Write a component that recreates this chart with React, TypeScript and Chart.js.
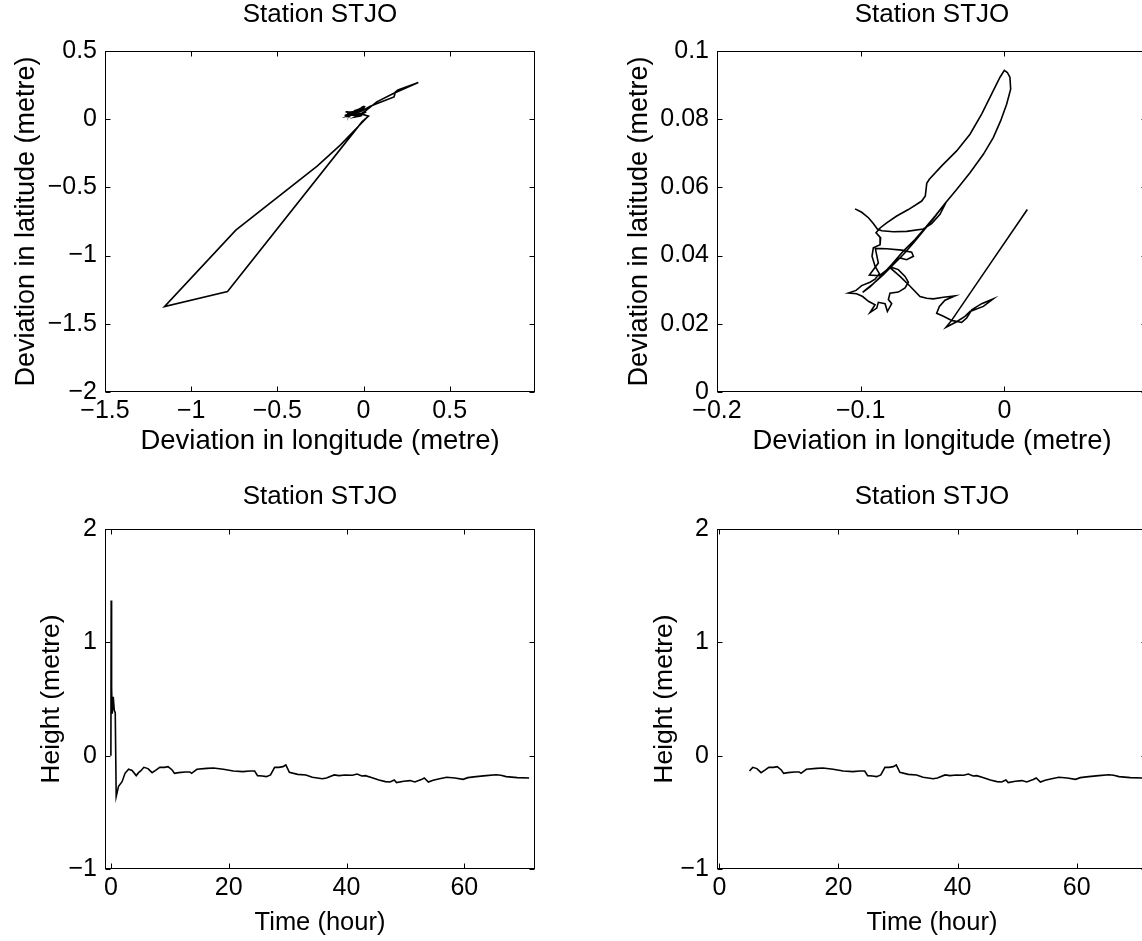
import React, { useEffect, useRef } from "react";
import { Chart, registerables } from "chart.js";

Chart.register(...registerables);

const FONT = "'Liberation Sans', Arial, Helvetica, sans-serif";

// ---------- Data ----------
// Early (first ~5 h) horizontal track, longitude / latitude deviation (m)
const earlyLon = [0.02, -0.135, -0.269, -0.741, -1.155, -0.789, -0.009, 0.029, -0.03, -0.09, -0.02, 0.01, 0.077, 0.173, 0.318, 0.2, 0.185, 0.177, 0.09, 0.039, -0.019, -0.06];
const earlyLat = [0.012, -0.19, -0.344, -0.813, -1.374, -1.264, -0.02, 0.022, 0.045, 0.03, 0.035, 0.06, 0.127, 0.188, 0.269, 0.215, 0.2, 0.163, 0.12, 0.095, 0.054, 0.05];

// Track after ~5 h (shown alone in the upper right panel)
const lateLon = [
  -0.1039, -0.0993, -0.0946, -0.0912, -0.0884, -0.0854, -0.0772, -0.068, -0.0564, -0.0506,
  -0.0448, -0.0413, -0.0436, -0.0494, -0.0564, -0.0633, -0.0703, -0.0772, -0.0842, -0.0912,
  -0.097, -0.0986, -0.0935, -0.0865, -0.0784, -0.0703, -0.0622, -0.0552, -0.0482, -0.0413,
  -0.0332, -0.0239, -0.0146, -0.0077, -0.0026, 0.0016, 0.0044, 0.0039, 0.0021, 0.0,
  -0.003, -0.0088, -0.0158, -0.0239, -0.0332, -0.0436, -0.0522, -0.054, -0.055, -0.0575,
  -0.0668, -0.0749, -0.0819, -0.0865, -0.0893, -0.0861, -0.0865, -0.0912, -0.0921, -0.09,
  -0.087, -0.09, -0.0935, -0.0993, -0.1032, -0.1086, -0.1028, -0.0986, -0.0946, -0.09,
  -0.0935, -0.0888, -0.0877, -0.083, -0.0814, -0.0784, -0.0807, -0.0796, -0.0738, -0.0691,
  -0.0668, -0.0691, -0.0738, -0.0796, -0.0772, -0.0726, -0.068, -0.0633, -0.0645, -0.0714,
  -0.0819, -0.0898, -0.0877, -0.0939, -0.087, -0.0796, -0.0726, -0.0656, -0.0587, -0.054,
  -0.0494, -0.0424, -0.0343, -0.0413, -0.0452, -0.0471, -0.0424, -0.0367, -0.0297, -0.0262,
  -0.0227, -0.0158, -0.0077, -0.0146, -0.0239, -0.0274, -0.0332, -0.0406, -0.0367, -0.01,
  0.016,
];
const lateLat = [
  0.0537, 0.0527, 0.0511, 0.0494, 0.0478, 0.0473, 0.047, 0.0471, 0.0478, 0.0494,
  0.0521, 0.055, 0.054, 0.0508, 0.0472, 0.0437, 0.0403, 0.0374, 0.0344, 0.0318,
  0.0298, 0.0292, 0.0308, 0.0337, 0.0374, 0.0413, 0.0447, 0.0481, 0.0516, 0.0553,
  0.0594, 0.0643, 0.0697, 0.0746, 0.0795, 0.0844, 0.0888, 0.0923, 0.0937, 0.0943,
  0.0923, 0.0874, 0.0815, 0.0756, 0.0707, 0.0663, 0.0624, 0.0612, 0.0575, 0.056,
  0.0535, 0.0516, 0.0496, 0.0481, 0.0467, 0.0452, 0.0432, 0.0423, 0.0398, 0.0369,
  0.0347, 0.0331, 0.0322, 0.0312, 0.0298, 0.029, 0.0288, 0.028, 0.0266, 0.0256,
  0.0233, 0.0246, 0.0263, 0.0259, 0.0236, 0.0259, 0.0271, 0.029, 0.0293, 0.0305,
  0.0322, 0.0339, 0.0359, 0.0367, 0.0378, 0.0393, 0.0388, 0.0398, 0.041, 0.0416,
  0.042, 0.0421, 0.0378, 0.0343, 0.0341, 0.0365, 0.0339, 0.031, 0.028, 0.0275,
  0.0273, 0.0278, 0.0282, 0.0269, 0.0251, 0.0231, 0.0222, 0.021, 0.0204, 0.0217,
  0.0241, 0.0259, 0.0273, 0.0251, 0.0236, 0.0222, 0.0206, 0.019, 0.021, 0.0375,
  0.0535,
];

// Height time series
const timeHours = [
  0, 0.05, 0.12, 0.23, 0.4, 0.57, 0.74, 0.9, 1.3, 1.9, 2.4, 3.0, 3.6, 4.3, 4.7,
  5.05, 5.6, 6.3, 7.0, 7.7, 8.3, 9.1, 9.7, 10.4, 10.8, 11.5, 12.6, 13.4, 13.7, 14.6,
  16.3, 17.4, 19.1, 20.8, 22.4, 23.6, 24.4, 24.9, 25.7, 26.4, 27.1, 27.8, 28.5, 29.2,
  29.7, 30.3, 31.7, 33.1, 34.2, 35.9, 36.6, 37.9, 38.7, 39.8, 41.0, 41.8, 42.6, 43.2,
  44.1, 45.5, 46.6, 47.4, 48.1, 48.5, 49.7, 50.8, 51.6, 52.7, 53.2, 53.9, 54.7, 55.8,
  57.0, 58.4, 59.8, 60.6, 62.0, 63.7, 65.4, 66.2, 67.1, 69.0, 71.0,
];
const heightMetre = [
  0, 1.37, 0.6, 0.37, 0.52, 0.4, 0.38, -0.36, -0.27, -0.23, -0.156, -0.12, -0.13, -0.176, -0.15,
  -0.135, -0.103, -0.114, -0.15, -0.126, -0.103, -0.103, -0.097, -0.126, -0.156, -0.15, -0.144, -0.144, -0.156, -0.12,
  -0.112, -0.109, -0.12, -0.135, -0.141, -0.135, -0.135, -0.176, -0.179, -0.185, -0.17, -0.103, -0.103, -0.097,
  -0.082, -0.147, -0.165, -0.17, -0.191, -0.203, -0.197, -0.17, -0.176, -0.17, -0.173, -0.162, -0.179, -0.176,
  -0.191, -0.214, -0.229, -0.232, -0.214, -0.238, -0.226, -0.22, -0.232, -0.211, -0.197, -0.232, -0.217, -0.203,
  -0.191, -0.197, -0.209, -0.194, -0.185, -0.176, -0.168, -0.173, -0.185, -0.194, -0.197,
];
const rightStartHour = 5;

const TITLE = "Station STJO";
const LON_LABEL = "Deviation in longitude (metre)";
const LAT_LABEL = "Deviation in latitude (metre)";
const TIME_LABEL = "Time (hour)";
const HEIGHT_LABEL = "Height (metre)";

const ticksTL_X = [-1.5, -1, -0.5, 0, 0.5];
const ticksTL_Y = [-2, -1.5, -1, -0.5, 0, 0.5];
const ticksTR_X = [-0.2, -0.1, 0];
const ticksTR_Y = [0, 0.02, 0.04, 0.06, 0.08, 0.1];
const ticksH_X = [0, 20, 40, 60];
const ticksH_Y = [-1, 0, 1, 2];

// ---------- Chart helpers ----------
type Pt = { x: number; y: number };
type Panel = {
  left: number; top: number; width: number; height: number;
  area: { l: number; t: number; r: number; b: number };
  titleY: number; xLabelY: number; yLabelX: number;
  xLabelSize: number; yLabelSize: number;
  xMin: number; xMax: number; xTicks: number[];
  yMin: number; yMax: number; yTicks: number[];
  xLabel: string; yLabel: string;
  points: Pt[];
};

const TICK_SIZE = 25;
const TITLE_SIZE = 26;

const fmt = (v: number) => String(v).replace("-", "\u2212");

const boxPlugin = {
  id: "matlabBox",
  afterDraw(chart: any) {
    const { ctx, chartArea: a, scales } = chart;
    const L = Math.round(a.left) + 0.5;
    const R = Math.round(a.right) - 0.5;
    const T = Math.round(a.top) + 0.5;
    const B = Math.round(a.bottom) - 0.5;
    ctx.save();
    ctx.strokeStyle = "#000";
    ctx.lineWidth = 1;
    ctx.strokeRect(L, T, R - L, B - T);
    const tl = 5;
    ctx.beginPath();
    scales.x.ticks.forEach((t: any) => {
      const px = Math.round(scales.x.getPixelForValue(t.value)) + 0.5;
      ctx.moveTo(px, B); ctx.lineTo(px, B - tl);
      ctx.moveTo(px, T); ctx.lineTo(px, T + tl);
    });
    scales.y.ticks.forEach((t: any) => {
      const py = Math.round(scales.y.getPixelForValue(t.value)) + 0.5;
      ctx.moveTo(L, py); ctx.lineTo(L + tl, py);
      ctx.moveTo(R, py); ctx.lineTo(R - tl, py);
    });
    ctx.stroke();
    ctx.restore();
  },
};

function buildConfig(p: Panel): any {
  const tlh = TITLE_SIZE * 1.2;
  const xlh = p.xLabelSize * 1.2;
  const ylh = p.yLabelSize * 1.2;
  return {
    type: "scatter",
    data: {
      datasets: [
        {
          data: p.points,
          showLine: true,
          borderColor: "#000",
          backgroundColor: "#000",
          borderWidth: 1.6,
          pointRadius: 0,
          pointHoverRadius: 0,
          tension: 0,
          fill: false,
        },
      ],
    },
    options: {
      responsive: false,
      animation: false,
      devicePixelRatio: 1,
      layout: { padding: { left: 0, top: 0, bottom: 0, right: p.width - p.area.r } },
      plugins: {
        legend: { display: false },
        tooltip: { enabled: false },
        title: {
          display: true,
          fullSize: false,
          text: TITLE,
          color: "#000",
          font: { family: FONT, size: TITLE_SIZE, weight: "normal", lineHeight: 1.2 },
          padding: { top: p.titleY - tlh / 2, bottom: p.area.t - p.titleY - tlh / 2 },
        },
      },
      scales: {
        x: {
          type: "linear",
          position: "bottom",
          min: p.xMin,
          max: p.xMax,
          afterBuildTicks: (s: any) => { s.ticks = p.xTicks.map((v) => ({ value: v })); },
          afterFit: (s: any) => { s.height = p.height - p.area.b; },
          grid: { display: false, drawTicks: false },
          border: { display: false },
          ticks: {
            autoSkip: false, maxRotation: 0, padding: 4, color: "#000",
            font: { family: FONT, size: TICK_SIZE },
            callback: (v: any) => fmt(Number(v)),
          },
          title: {
            display: true, text: p.xLabel, color: "#000",
            font: { family: FONT, size: p.xLabelSize, lineHeight: 1.2 },
            padding: { top: 0, bottom: p.height - p.xLabelY - xlh / 2 },
          },
        },
        y: {
          type: "linear",
          position: "left",
          min: p.yMin,
          max: p.yMax,
          afterBuildTicks: (s: any) => { s.ticks = p.yTicks.map((v) => ({ value: v })); },
          afterFit: (s: any) => { s.width = p.area.l; },
          grid: { display: false, drawTicks: false },
          border: { display: false },
          ticks: {
            autoSkip: false, padding: 8, color: "#000",
            font: { family: FONT, size: TICK_SIZE },
            callback: (v: any) => fmt(Number(v)),
          },
          title: {
            display: true, text: p.yLabel, color: "#000",
            font: { family: FONT, size: p.yLabelSize, lineHeight: 1.2 },
            padding: { top: p.yLabelX - ylh / 2, bottom: 0 },
          },
        },
      },
    },
    plugins: [boxPlugin],
  };
}

function PanelChart({ p }: { p: Panel }) {
  const ref = useRef<HTMLCanvasElement | null>(null);
  useEffect(() => {
    if (!ref.current) return;
    const chart = new Chart(ref.current, buildConfig(p));
    return () => chart.destroy();
  }, []);
  return (
    <canvas
      ref={ref}
      width={p.width}
      height={p.height}
      style={{ position: "absolute", left: p.left, top: p.top, width: p.width, height: p.height }}
    />
  );
}

const zipPts = (xs: number[], ys: number[]): Pt[] => xs.map((x, i) => ({ x, y: ys[i] }));

export default function App() {
  const latePts = zipPts(lateLon, lateLat);
  const allTrack = zipPts(earlyLon, earlyLat).concat(latePts);
  const heightAll = zipPts(timeHours, heightMetre);
  const heightLate = heightAll.filter((pt) => pt.x >= rightStartHour);

  const panels: Panel[] = [
    {
      left: 0, top: 0, width: 571, height: 470,
      area: { l: 105, t: 51, r: 535, b: 392 },
      titleY: 15, xLabelY: 441, yLabelX: 27, xLabelSize: 27.5, yLabelSize: 27,
      xMin: -1.5, xMax: 0.995, xTicks: ticksTL_X,
      yMin: -2, yMax: 0.5, yTicks: ticksTL_Y,
      xLabel: LON_LABEL, yLabel: LAT_LABEL, points: allTrack,
    },
    {
      left: 600, top: 0, width: 560, height: 470,
      area: { l: 117, t: 51, r: 547, b: 392 },
      titleY: 15, xLabelY: 441, yLabelX: 40, xLabelSize: 27.5, yLabelSize: 27,
      xMin: -0.2, xMax: 0.0993, xTicks: ticksTR_X,
      yMin: 0, yMax: 0.1, yTicks: ticksTR_Y,
      xLabel: LON_LABEL, yLabel: LAT_LABEL, points: latePts,
    },
    {
      left: 0, top: 470, width: 571, height: 471,
      area: { l: 105, t: 59, r: 535, b: 399 },
      titleY: 27, xLabelY: 453, yLabelX: 52, xLabelSize: 25.5, yLabelSize: 26.5,
      xMin: -1, xMax: 72, xTicks: ticksH_X,
      yMin: -1, yMax: 2, yTicks: ticksH_Y,
      xLabel: TIME_LABEL, yLabel: HEIGHT_LABEL, points: heightAll,
    },
    {
      left: 600, top: 470, width: 560, height: 471,
      area: { l: 117, t: 59, r: 547, b: 399 },
      titleY: 27, xLabelY: 453, yLabelX: 65, xLabelSize: 25.5, yLabelSize: 26.5,
      xMin: -0.4, xMax: 71.8, xTicks: ticksH_X,
      yMin: -1, yMax: 2, yTicks: ticksH_Y,
      xLabel: TIME_LABEL, yLabel: HEIGHT_LABEL, points: heightLate,
    },
  ];

  return (
    <div
      style={{
        position: "fixed", left: 0, top: 0, width: 1142, height: 941,
        overflow: "hidden", background: "#fff",
      }}
    >
      {panels.map((p, i) => (
        <PanelChart key={i} p={p} />
      ))}
    </div>
  );
}
